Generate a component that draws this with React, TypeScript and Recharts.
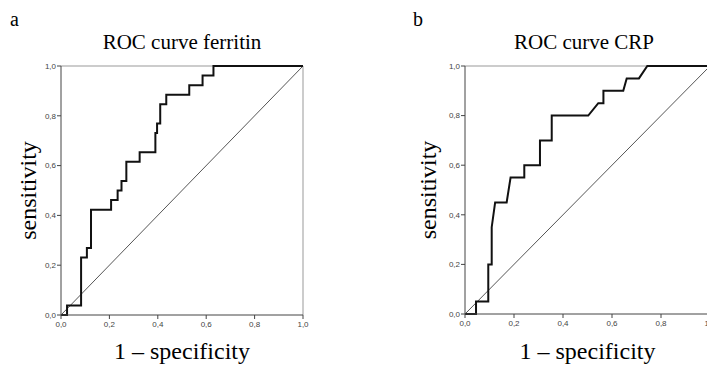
import React from 'react';
import { LineChart, Line, XAxis, YAxis, ReferenceLine, Label } from 'recharts';

// tick positions shared by both axes of both panels
const axisTicks = [0, 0.2, 0.4, 0.6, 0.8, 1];

// panel a: ferritin ROC corners (1 - specificity, sensitivity)
const ferritinFpr = [0, 0.025, 0.025, 0.083, 0.083, 0.107, 0.107, 0.124, 0.124, 0.207, 0.207, 0.234, 0.234, 0.25, 0.25, 0.27, 0.27, 0.325, 0.325, 0.39, 0.39, 0.397, 0.397, 0.41, 0.41, 0.435, 0.435, 0.53, 0.53, 0.585, 0.585, 0.63, 0.63, 1];
const ferritinTpr = [0, 0, 0.038, 0.038, 0.231, 0.231, 0.269, 0.269, 0.423, 0.423, 0.462, 0.462, 0.5, 0.5, 0.538, 0.538, 0.615, 0.615, 0.654, 0.654, 0.731, 0.731, 0.769, 0.769, 0.846, 0.846, 0.885, 0.885, 0.923, 0.923, 0.962, 0.962, 1, 1];

// panel b: CRP ROC corners
const crpFpr = [0, 0.045, 0.045, 0.095, 0.095, 0.109, 0.109, 0.123, 0.17, 0.186, 0.242, 0.242, 0.306, 0.306, 0.354, 0.354, 0.503, 0.544, 0.565, 0.565, 0.646, 0.66, 0.71, 0.744, 1];
const crpTpr = [0, 0, 0.05, 0.05, 0.2, 0.2, 0.35, 0.45, 0.45, 0.55, 0.55, 0.6, 0.6, 0.7, 0.7, 0.8, 0.8, 0.85, 0.85, 0.9, 0.9, 0.95, 0.95, 1, 1];

const comma = (v: number) => v.toFixed(1).replace('.', ',');

const serif = '"Liberation Serif", "Times New Roman", serif';

type PanelProps = {
  fpr: number[];
  tpr: number[];
  left: number;
  width: number;
  yAxisWidth: number;
  rightMargin: number;
  xAxisHeight: number;
};

function RocPanel({ fpr, tpr, left, width, yAxisWidth, rightMargin, xAxisHeight }: PanelProps) {
  const data = fpr.map((x, i) => ({ fpr: x, tpr: tpr[i] }));
  const tickStyle = { fontSize: 8, fill: '#444', fontFamily: '"Liberation Sans", Arial, sans-serif' };

  return (
    <div style={{ position: 'absolute', left, top: 0 }}>
      <LineChart width={width} height={371} data={data} margin={{ top: 66, right: rightMargin, left: 0, bottom: 0 }}>
        <XAxis
          dataKey="fpr"
          type="number"
          domain={[0, 1]}
          ticks={axisTicks}
          tickFormatter={comma}
          height={xAxisHeight}
          tick={tickStyle}
          tickSize={4}
          tickMargin={2}
          axisLine={{ stroke: '#444' }}
          tickLine={{ stroke: '#444' }}
        >
          <Label value="1 – specificity" position="insideBottom" offset={12} fontSize={24} fontFamily={serif} fill="#000" />
        </XAxis>
        <YAxis
          type="number"
          domain={[0, 1]}
          ticks={axisTicks}
          tickFormatter={comma}
          width={yAxisWidth}
          tick={tickStyle}
          tickSize={4}
          tickMargin={1}
          axisLine={{ stroke: '#444' }}
          tickLine={{ stroke: '#444' }}
        >
          <Label
            value="sensitivity"
            angle={-90}
            position="insideLeft"
            offset={27}
            style={{ textAnchor: 'middle' }}
            fontSize={24}
            fontFamily={serif}
            fill="#000"
          />
        </YAxis>
        <ReferenceLine y={1} stroke="#999" strokeWidth={1} />
        <ReferenceLine x={1} stroke="#999" strokeWidth={1} />
        <ReferenceLine segment={[{ x: 0, y: 0 }, { x: 1, y: 1 }]} stroke="#555" strokeWidth={1} />
        <Line type="linear" dataKey="tpr" stroke="#111" strokeWidth={2} dot={false} isAnimationActive={false} />
      </LineChart>
    </div>
  );
}

export default function App() {
  return (
    <div style={{ position: 'fixed', left: 0, top: 0, width: 707, height: 371, overflow: 'hidden', background: '#fff' }}>
      <div style={{ position: 'absolute', left: 10, top: 9, fontFamily: serif, fontSize: 20, lineHeight: '20px' }}>a</div>
      <div style={{ position: 'absolute', left: 413, top: 9, fontFamily: serif, fontSize: 20, lineHeight: '20px' }}>b</div>
      <div style={{ position: 'absolute', left: 0, width: 364, top: 32, textAlign: 'center', fontFamily: serif, fontSize: 21, lineHeight: '21px' }}>
        ROC curve ferritin
      </div>
      <div style={{ position: 'absolute', left: 400, width: 368, top: 32, textAlign: 'center', fontFamily: serif, fontSize: 21, lineHeight: '21px' }}>
        ROC curve CRP
      </div>
      <RocPanel fpr={ferritinFpr} tpr={ferritinTpr} left={0} width={320} yAxisWidth={61} rightMargin={17} xAxisHeight={56} />
      <RocPanel fpr={crpFpr} tpr={crpTpr} left={400} width={400} yAxisWidth={65} rightMargin={90} xAxisHeight={57} />
    </div>
  );
}
